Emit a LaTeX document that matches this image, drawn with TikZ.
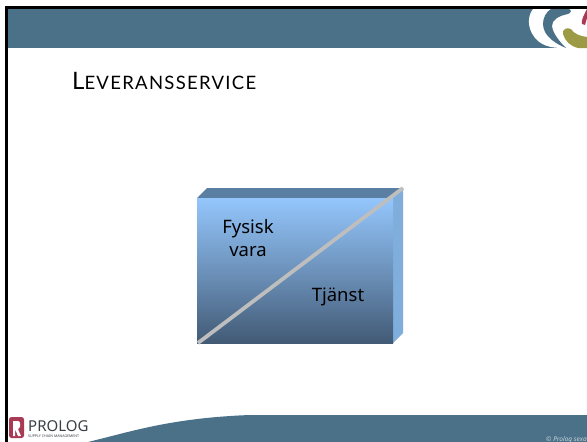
\documentclass[tikz,border=0pt]{standalone}
\usepackage{fontspec}
\setmainfont{Open Sans}
\newfontfamily\titlefont{Lato}
\newfontfamily\titlesmall[LetterSpace=7]{Lato}
\newfontfamily\bodyfont{Noto Sans}
\definecolor{band}{HTML}{4A7188}
\definecolor{boxtop}{HTML}{94C6FC}
\definecolor{boxbot}{HTML}{425A75}
\definecolor{boxlid}{HTML}{5B7FA3}
\definecolor{boxside}{HTML}{7FAEDD}
\definecolor{diag}{HTML}{BEBEBE}
\definecolor{logored}{HTML}{A83A55}
\definecolor{logoolive}{HTML}{9C9A45}
\definecolor{logotext}{HTML}{3A3F45}
\tikzset{
  bandfill/.style={fill=band,draw=none},
  boxlabel/.style={font=\bodyfont\fontsize{18.5}{22.5}\selectfont,text=black,inner sep=0pt,align=center},
}
\begin{document}
\begin{tikzpicture}[x=1pt,y=-1pt]
\useasboundingbox (0,0) rectangle (587,442);
\fill[white] (0,0) rectangle (587,442);
% top band
\fill[bandfill] (8,9) rectangle (587,48);
% bottom band
\fill[bandfill] (88,442) .. controls (130,432) and (170,418) .. (250,415) -- (587,415) -- (587,442) -- cycle;
% frame
\fill[black] (5,6) rectangle (587,9);
\fill[black] (5,6) rectangle (8,442);
% corner logo
\begin{scope}
\clip (480,9) rectangle (587,48);
\fill[white] (533,9) .. controls (526,18) and (528,32) .. (538,41) .. controls (544,46) and (552,48) .. (562,48) -- (587,48) -- (587,9) -- cycle;
\fill[band] (551,9) -- (569,9) .. controls (572,10) and (571,13) .. (568,14) .. controls (558,16) and (552,20) .. (552,26) .. controls (553,34) and (560,42) .. (566,48) .. controls (556,44) and (543,36) .. (543,24) .. controls (543,18) and (546,12) .. (551,9) -- cycle;
\fill[logored] (587,18) -- (585,25) -- (582,24) .. controls (581,20) and (584,15) .. (587,9) -- cycle;
\fill[logoolive] (563,34) .. controls (562,29) and (567,27) .. (571,29) .. controls (574,34) and (580,36) .. (587,37) -- (587,48) -- (578,48) .. controls (570,46) and (565,41) .. (563,34) -- cycle;
\end{scope}
% title
\node[anchor=base west,inner sep=0pt,text=black] (title) at (72,89) {\titlefont\fontsize{24}{28}\selectfont L\titlesmall\fontsize{18.5}{28}\selectfont EVERANSSERVICE};
% box
\fill[boxlid] (197,198) -- (207,188) -- (403,188) -- (393,198) -- cycle;
\fill[boxside] (393,198) -- (403,188) -- (403,333) -- (393,343) -- cycle;
\shade[top color=boxtop,bottom color=boxbot,middle color=boxtop!52!boxbot] (197,198) rectangle (393,343);
\draw[diag,line width=3.8pt] (198,343) -- (403,188);
\node[boxlabel] (fysisk) at (248,238) {Fysisk\\vara};
\node[boxlabel] (tjanst) at (338,296.5) {Tjänst};
% company logo
\fill[logored,rounded corners=2.5pt] (9,417) rectangle (24,438);
\fill[white] (13,421) -- (18,421) .. controls (21,421) and (21,428) .. (18,429) -- (21,436) -- (18,436) -- (15,429) -- (15,436) -- (13,436) -- cycle;
\node[anchor=base west,inner sep=0pt,text=logotext] (prolog) at (28,431.5) {\bodyfont\fontsize{15}{16}\selectfont PROLOG};
\node[anchor=base west,inner sep=0pt,text=logotext] (sub) at (28,437) {\bodyfont\fontsize{3.6}{3.6}\selectfont SUPPLY CHAIN MANAGEMENT};
% copyright
\node[anchor=base west,inner sep=0pt,text=white!70!band] (copy) at (546,441) {\bodyfont\itshape\fontsize{6.5}{7}\selectfont © Prolog sexa};
\end{tikzpicture}
\end{document}
